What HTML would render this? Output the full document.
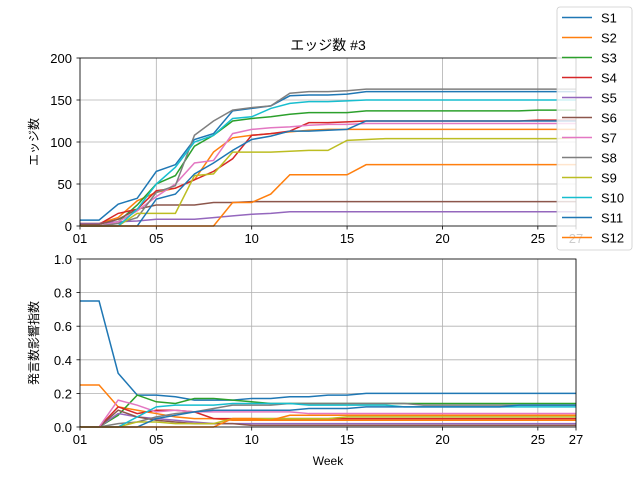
<!DOCTYPE html>
<html><head><meta charset="utf-8"><style>
body{margin:0;background:#fff;width:640px;height:480px;overflow:hidden}
svg text{font-family:"Liberation Sans","Noto Sans CJK JP",sans-serif;fill:#000}
</style></head><body>
<svg id="chart" width="640" height="480" xmlns="http://www.w3.org/2000/svg"></svg>
<script>
const weeks = Array.from({length:27},(_,i)=>i+1);
const xTickWeeks = [1,5,10,15,20,25,27];
const xTickLabels = ["01","05","10","15","20","25","27"];
const topYTicks = [0,50,100,150,200];
const botYTicks = [0,0.2,0.4,0.6,0.8,1.0];
const seriesNames = ["S1","S2","S3","S4","S5","S6","S7","S8","S9","S10","S11","S12"];
const colors = ["#1f77b4","#ff7f0e","#2ca02c","#d62728","#9467bd","#8c564b","#e377c2","#7f7f7f","#bcbd22","#17becf","#1f77b4","#ff7f0e"];
const edgeS1 = [7,7,26,33,65,73,103,110,137,140,143,155,156,156,157,160,160,160,160,160,160,160,160,160,160,160,160];
const edgeS2 = [3,3,10,30,40,45,55,88,105,108,110,112,114,115,115,115,115,115,115,115,115,115,115,115,115,115,115];
const edgeS3 = [0,0,5,25,50,60,95,108,125,128,130,133,135,135,135,137,137,137,137,137,137,137,137,137,138,138,138];
const edgeS4 = [2,2,15,20,42,45,55,65,80,108,110,113,123,123,124,125,125,125,125,125,125,125,125,125,126,126,126];
const edgeS5 = [3,3,5,6,8,8,8,10,12,14,15,17,17,17,17,17,17,17,17,17,17,17,17,17,17,17,17];
const edgeS6 = [2,2,8,20,25,25,25,28,28,29,29,29,29,29,29,29,29,29,29,29,29,29,29,29,29,29,29];
const edgeS7 = [0,0,5,18,35,50,75,78,110,115,117,118,120,121,121,122,122,122,122,122,122,122,122,122,122,122,122];
const edgeS8 = [0,0,3,10,40,48,108,125,138,141,143,158,160,160,161,163,163,163,163,163,163,163,163,163,163,163,163];
const edgeS9 = [0,0,0,15,15,15,60,62,88,88,88,89,90,90,102,103,104,104,104,104,104,104,104,104,104,104,105];
const edgeS10 = [0,0,0,20,50,70,100,108,128,130,140,146,148,148,149,150,150,150,150,150,150,150,150,150,150,150,150];
const edgeS11 = [0,0,0,0,32,38,62,75,90,103,107,113,113,114,115,125,125,125,125,125,125,125,125,125,125,125,125];
const edgeS12 = [0,0,0,0,0,0,0,0,28,28,38,61,61,61,61,73,73,73,73,73,73,73,73,73,73,73,73];
const infS1 = [.75,.75,.32,.19,.19,.18,.16,.16,.16,.17,.17,.18,.18,.19,.19,.2,.2,.2,.2,.2,.2,.2,.2,.2,.2,.2,.2];
const infS2 = [.25,.25,.12,.10,.08,.06,.05,.05,.04,.04,.04,.04,.04,.04,.04,.04,.04,.04,.04,.04,.04,.04,.04,.04,.04,.04,.04];
const infS3 = [0,0,.07,.19,.15,.14,.17,.17,.16,.15,.14,.14,.14,.14,.14,.14,.14,.14,.14,.14,.14,.14,.14,.14,.14,.14,.14];
const infS4 = [0,0,.12,.08,.1,.1,.09,.05,.05,.05,.05,.05,.05,.05,.05,.05,.05,.05,.05,.05,.05,.05,.05,.05,.05,.05,.05];
const infS5 = [0,0,.08,.06,.05,.04,.03,.02,.02,.02,.02,.02,.02,.02,.02,.02,.02,.02,.02,.02,.02,.02,.02,.02,.02,.02,.02];
const infS6 = [0,0,.1,.06,.04,.03,.02,.02,.02,.01,.01,.01,.01,.01,.01,.01,.01,.01,.01,.01,.01,.01,.01,.01,.01,.01,.01];
const infS7 = [0,0,.16,.13,.09,.1,.09,.09,.09,.09,.09,.09,.08,.08,.08,.08,.08,.08,.08,.08,.08,.08,.08,.08,.08,.08,.08];
const infS8 = [0,0,.02,.03,.06,.08,.09,.11,.13,.13,.13,.14,.14,.14,.14,.14,.14,.14,.13,.13,.13,.13,.13,.13,.13,.13,.13];
const infS9 = [0,0,0,.03,.03,.02,.02,.02,.05,.05,.05,.05,.05,.05,.06,.06,.06,.06,.06,.06,.06,.06,.06,.06,.06,.06,.06];
const infS10 = [0,0,0,.06,.12,.13,.13,.13,.14,.14,.14,.14,.13,.13,.13,.13,.13,.12,.12,.12,.12,.12,.12,.12,.12,.12,.12];
const infS11 = [0,0,0,0,.05,.07,.09,.1,.1,.1,.1,.1,.11,.11,.11,.12,.12,.12,.12,.12,.12,.12,.12,.13,.13,.13,.13];
const infS12 = [0,0,0,0,0,0,0,0,.05,.05,.04,.07,.07,.07,.07,.07,.07,.07,.07,.07,.07,.07,.07,.07,.07,.07,.07];
const edgeData = [edgeS1,edgeS2,edgeS3,edgeS4,edgeS5,edgeS6,edgeS7,edgeS8,edgeS9,edgeS10,edgeS11,edgeS12];
const infData = [infS1,infS2,infS3,infS4,infS5,infS6,infS7,infS8,infS9,infS10,infS11,infS12];

const svg = document.getElementById('chart');
const NS = "http://www.w3.org/2000/svg";
function mk(tag, attrs, parent){const e=document.createElementNS(NS,tag);for(const k in attrs)e.setAttribute(k,attrs[k]);(parent||svg).appendChild(e);return e;}
const L=80,R=576;
const xs = w => L + (w-1)*(R-L)/26;

function panel(name, top, bot, ymax, yTicks, yFmt, data, ylabel, ylabelX){
  const g = mk('g',{});
  
  
  const ys = v => bot - v/ymax*(bot-top);
  xTickWeeks.forEach((w,i)=>{
    const l=mk('line',{x1:xs(w),x2:xs(w),y1:top,y2:bot,stroke:'#b0b0b0','stroke-width':0.8},g);
    
    
    mk('line',{x1:xs(w),x2:xs(w),y1:bot,y2:bot+3.5,stroke:'#000','stroke-width':0.8},g);
    const t=mk('text',{x:xs(w),y:bot+17,'font-size':13,'text-anchor':'middle'},g);
    t.textContent=xTickLabels[i];
    
    
  });
  yTicks.forEach(v=>{
    const l=mk('line',{x1:L,x2:R,y1:ys(v),y2:ys(v),stroke:'#b0b0b0','stroke-width':0.8},g);
    
    
    mk('line',{x1:L-3.5,x2:L,y1:ys(v),y2:ys(v),stroke:'#000','stroke-width':0.8},g);
    const t=mk('text',{x:L-8,y:ys(v)+5,'font-size':13,'text-anchor':'end'},g);
    t.textContent=yFmt(v);
    
    
  });
  data.forEach((arr,i)=>{
    const p=mk('polyline',{points:arr.map((v,j)=>xs(weeks[j])+','+ys(v)).join(' '),fill:'none',stroke:colors[i],'stroke-width':1.5},g);
    
    
  });
  mk('rect',{x:L,y:top,width:R-L,height:bot-top,fill:'none',stroke:'#000','stroke-width':0.8},g);
  const yl=mk('text',{x:ylabelX,y:(top+bot)/2,'font-size':12,'text-anchor':'middle',transform:`rotate(-90 ${ylabelX} ${(top+bot)/2})`},g);
  yl.textContent=ylabel;
  
  
}
panel('top-chart',58,226,200,topYTicks,v=>String(v),edgeData,'エッジ数',38);
panel('bottom-chart',259,427,1,botYTicks,v=>v.toFixed(1),infData,'発言数影響指数',38);

const title=mk('text',{x:328,y:50,'font-size':14,'text-anchor':'middle'});
title.textContent='エッジ数 #3';


const xl=mk('text',{x:328,y:465,'font-size':12,'text-anchor':'middle'});
xl.textContent='Week';



const lg=mk('g',{});


mk('rect',{x:557,y:7,width:75,height:243,rx:3,fill:'#fff','fill-opacity':0.8,stroke:'#ccc','stroke-width':0.8},lg);
seriesNames.forEach((n,i)=>{
  const y=17.5+i*20;
  const e=mk('g',{},lg);
  
  
  mk('line',{x1:562,x2:592,y1:y,y2:y,stroke:colors[i],'stroke-width':1.5},e);
  const t=mk('text',{x:601,y:y+5,'font-size':13},e);
  t.textContent=n;
});
</script>
</body></html>
